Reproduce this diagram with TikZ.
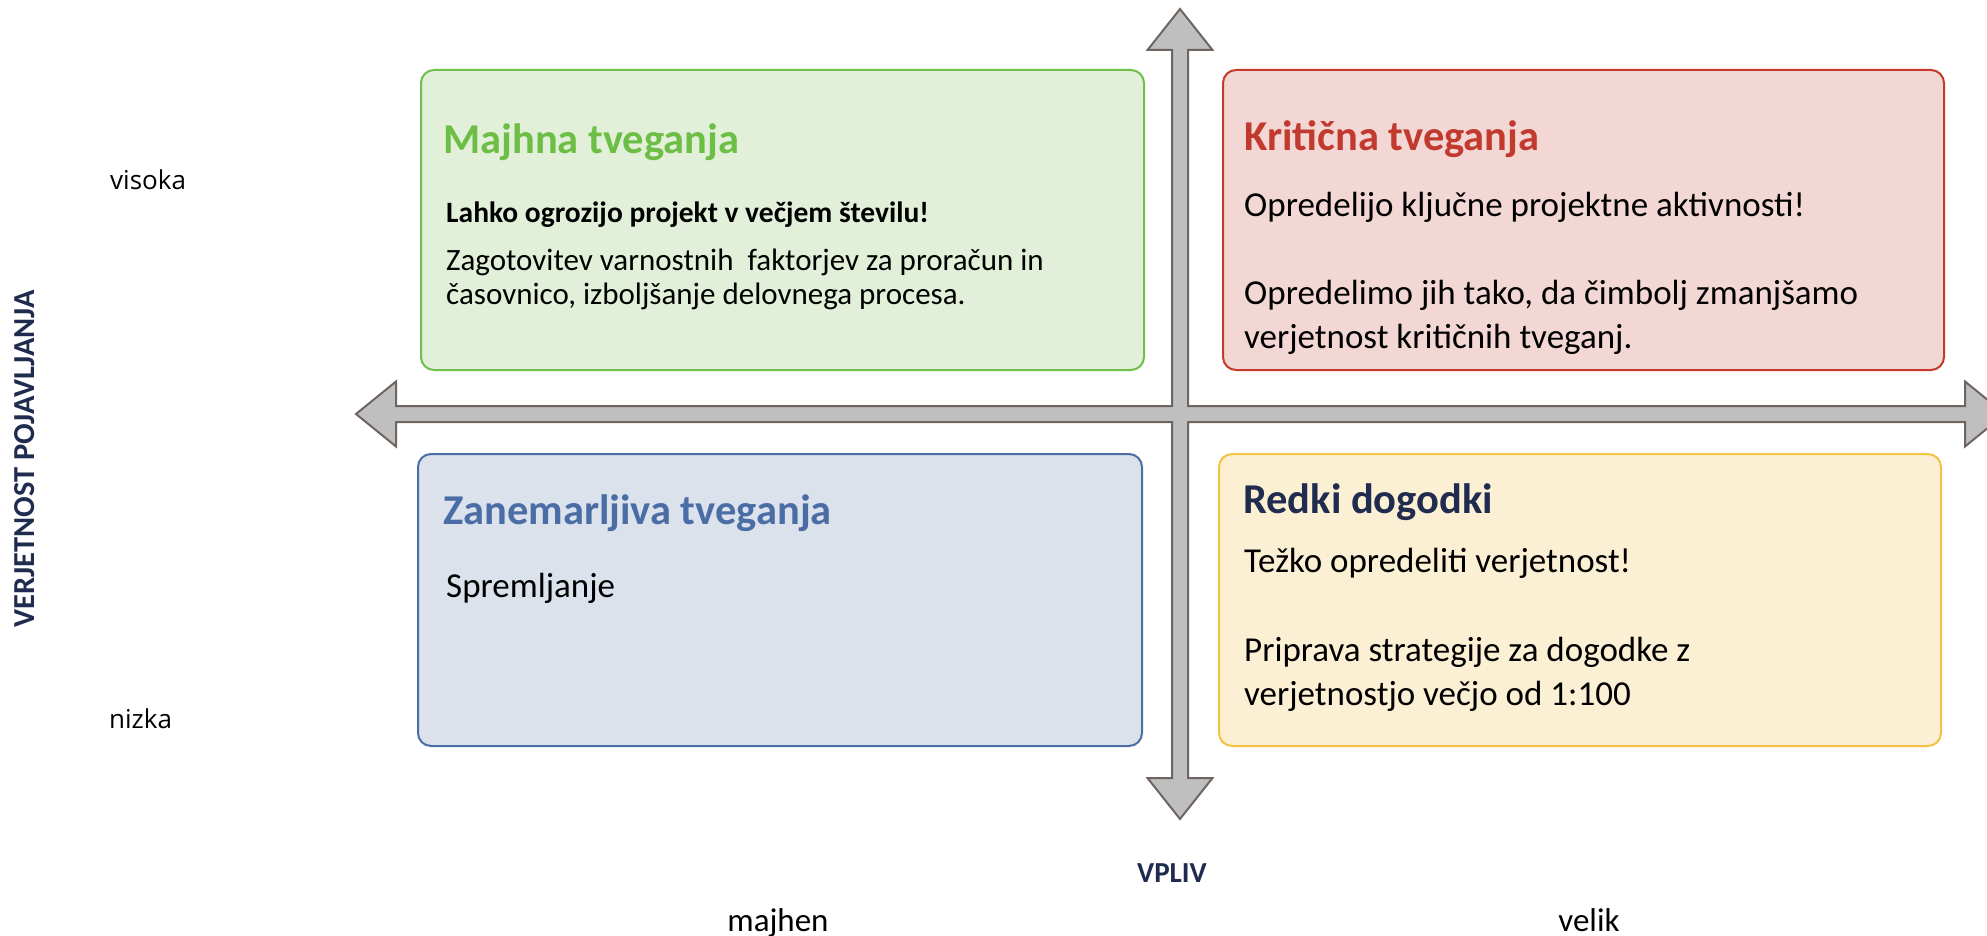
\documentclass[tikz,border=0pt]{standalone}
\usepackage{fontspec}
\setmainfont{Carlito}
\newfontfamily\lblfont{Open Sans}
\definecolor{axfill}{HTML}{BFBFBF}
\definecolor{axline}{HTML}{6F6560}
\definecolor{grline}{HTML}{70BF4B}
\definecolor{grfill}{HTML}{E2F0D9}
\definecolor{grtext}{HTML}{6CBE45}
\definecolor{rdline}{HTML}{C6392C}
\definecolor{rdfill}{HTML}{F2D7D5}
\definecolor{rdtext}{HTML}{C13A2D}
\definecolor{blline}{HTML}{4A6EA8}
\definecolor{blfill}{HTML}{DBE2EC}
\definecolor{bltext}{HTML}{4A6DA5}
\definecolor{ylline}{HTML}{F4C342}
\definecolor{ylfill}{HTML}{FCF0D4}
\definecolor{navy}{HTML}{1F2C4F}
\tikzset{
  quad/.style={draw, line width=2pt, rounded corners=13pt, minimum height=300pt, minimum width=723pt},
  ttl/.style={anchor=base west, inner sep=0pt, font=\fontsize{42.5}{50}\selectfont\bfseries},
  txt/.style={anchor=base west, inner sep=0pt, font=\fontsize{35}{42}\selectfont},
  smalltxt/.style={anchor=base west, inner sep=0pt, font=\fontsize{31}{37}\selectfont},
  lbl/.style={anchor=base west, inner sep=0pt, font=\lblfont\fontsize{26}{31}\selectfont},
  axname/.style={inner sep=0pt, text=navy, font=\fontsize{29}{35}\selectfont\bfseries}
}
\begin{document}
\begin{tikzpicture}[x=1pt,y=-1pt]
\useasboundingbox (0,0) rectangle (1987,936);

% axes
\draw[axline, fill=axfill, line width=2pt, line join=miter]
  (1180,9) -- (1212.5,50) -- (1188,50) -- (1188,406) -- (1965,406) -- (1965,381.5)
  -- (2005,414) -- (1965,446.5) -- (1965,422) -- (1188,422) -- (1188,778)
  -- (1212.5,778) -- (1180,819) -- (1147.5,778) -- (1172,778) -- (1172,422)
  -- (396,422) -- (396,446.5) -- (356,414) -- (396,381.5) -- (396,406)
  -- (1172,406) -- (1172,50) -- (1147.5,50) -- cycle;

% quadrants
\node[quad, draw=grline, fill=grfill] (small) at (782.5,220) {};
\node[quad, draw=rdline, fill=rdfill, minimum width=721pt] (crit) at (1583.5,220) {};
\node[quad, draw=blline, fill=blfill, minimum width=724pt, minimum height=292pt] (negl) at (780,600) {};
\node[quad, draw=ylline, fill=ylfill, minimum width=722pt, minimum height=292pt] (rare) at (1580,600) {};

\node[ttl, text=grtext] (smallT) at (443,154) {Majhna tveganja};
\node[smalltxt, font=\fontsize{29.5}{35}\selectfont\bfseries] (small1) at (446,223) {Lahko ogrozijo projekt v večjem številu!};
\node[smalltxt] (small2) at (446,270) {Zagotovitev varnostnih\ \ faktorjev za proračun in};
\node[smalltxt] (small3) at (446,304) {časovnico, izboljšanje delovnega procesa.};

\node[ttl, text=rdtext] (critT) at (1244,151) {Kritična tveganja};
\node[txt] (crit1) at (1244,217) {Opredelijo ključne projektne aktivnosti!};
\node[txt] (crit2) at (1244,304) {Opredelimo jih tako, da čimbolj zmanjšamo};
\node[txt] (crit3) at (1244,348) {verjetnost kritičnih tveganj.};

\node[ttl, text=bltext] (neglT) at (443,524) {Zanemarljiva tveganja};
\node[txt] (negl1) at (446,597) {Spremljanje};

\node[ttl, text=navy] (rareT) at (1243,513) {Redki dogodki};
\node[txt] (rare1) at (1244,572) {Težko opredeliti verjetnost!};
\node[txt] (rare2) at (1244,661) {Priprava strategije za dogodke z};
\node[txt] (rare3) at (1244,705) {verjetnostjo večjo od 1:100};

% axis labels
\node[lbl] (high) at (110,190) {visoka};
\node[lbl] (low) at (109,728) {nizka};
\node[axname, rotate=90, font=\fontsize{30.5}{36}\selectfont\bfseries] (prob) at (25,459) {VERJETNOST POJAVLJANJA};
\node[axname, anchor=base] (impact) at (1172,882) {VPLIV};
\node[txt, font=\fontsize{33}{40}\selectfont, anchor=base] (minor) at (778,931) {majhen};
\node[txt, font=\fontsize{33}{40}\selectfont, anchor=base] (major) at (1589,931) {velik};
\end{tikzpicture}
\end{document}
